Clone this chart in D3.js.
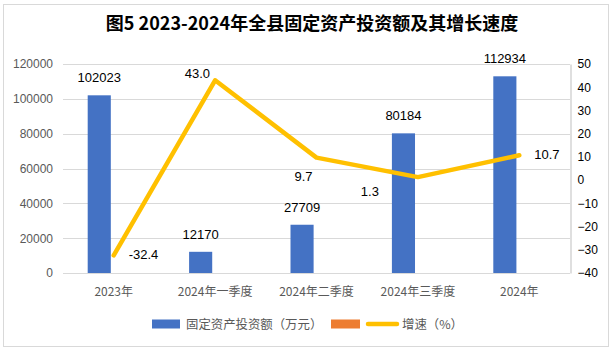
<!DOCTYPE html>
<html>
<head>
<meta charset="utf-8">
<script src="https://cdn.jsdelivr.net/npm/d3@7"></script>
<style>
  body { margin: 0; background: #fff; }
  text { font-family: "Liberation Sans", "Noto Sans CJK SC", sans-serif; }
  .cjk { font-family: "Noto Sans CJK SC", sans-serif; }
</style>
</head>
<body>
<div class="chart"></div>
<script>
// chart data
var categories = ["2023年", "2024年一季度", "2024年二季度", "2024年三季度", "2024年"];
var investment = [102023, 12170, 27709, 80184, 112934];
var growthRate = [-32.4, 43.0, 9.7, 1.3, 10.7];
var rateLabels = ["-32.4", "43.0", "9.7", "1.3", "10.7"];
var leftTicks = [0, 20000, 40000, 60000, 80000, 100000, 120000];
var rightTicks = [-40, -30, -20, -10, 0, 10, 20, 30, 40, 50];
var seriesNames = ["固定资产投资额（万元）", "增速（%）"];

// where each growth label sits relative to its point (layout only)
var rateLabelOffset = [[15, 4, "start"], [-5, -2, "end"], [-4, 23, "end"], [-39, 19, "end"], [15, 4, "start"]];

var svgWidth = 615;
var svgHeight = 353;
var margin = { top: 64, right: 45, bottom: 80, left: 63 };
var width = svgWidth - margin.left - margin.right;
var height = 273 - margin.top;

var svg = d3.select(".chart").append("svg")
  .attr("width", svgWidth)
  .attr("height", svgHeight);

svg.append("rect")
  .attr("x", 3.5).attr("y", 4.5)
  .attr("width", 605).attr("height", 342)
  .attr("fill", "#fff").attr("stroke", "#d9d9d9");

svg.append("text")
  .attr("class", "cjk")
  .attr("x", 312).attr("y", 30)
  .attr("text-anchor", "middle")
  .attr("font-size", 18).attr("font-weight", "bold")
  .attr("fill", "#000")
  .text("图5 2023-2024年全县固定资产投资额及其增长速度");

var chart = svg.append("g")
  .attr("transform", "translate(" + margin.left + "," + margin.top + ")");

var x0 = d3.scaleBand().domain(categories).range([0, width]);
// two bar slots per category (second series is empty)
var x1 = d3.scaleBand().domain([0, 1]).range([-26, 26]).paddingInner(0.2);
var yLeft = d3.scaleLinear().domain([0, 120000]).range([height, 0]);
var yRight = d3.scaleLinear().domain([-40, 50]).range([height, 0]);

function cx(d) { return x0(d) + x0.bandwidth() / 2; }

// gridlines
chart.append("g")
  .selectAll("line").data(leftTicks.slice(1)).enter().append("line")
  .attr("x1", 0).attr("x2", width)
  .attr("y1", function(d) { return Math.round(yLeft(d)) + 0.5; })
  .attr("y2", function(d) { return Math.round(yLeft(d)) + 0.5; })
  .attr("stroke", "#d9d9d9");

// left axis
var leftAxis = d3.axisLeft(yLeft).tickValues(leftTicks).tickFormat(d3.format("d")).tickSize(0).tickPadding(10);
chart.append("g").call(leftAxis)
  .call(function(g) { g.select(".domain").remove(); })
  .selectAll("text").attr("font-size", 12).attr("fill", "#595959")
  .style("font-family", "Liberation Sans, sans-serif");

// right axis
var rightAxis = d3.axisRight(yRight).tickValues(rightTicks).tickFormat(d3.format("d")).tickSize(0).tickPadding(7);
chart.append("g").attr("transform", "translate(" + (width + 0.5) + ",0)").call(rightAxis)
  .call(function(g) { g.select(".domain").attr("stroke", "#bfbfbf"); })
  .selectAll("text").attr("font-size", 12).attr("fill", "#000")
  .style("font-family", "Liberation Sans, sans-serif");

// bars
var barData = categories.map(function(c, i) { return { cat: c, value: investment[i] }; });
chart.selectAll(".bar").data(barData).enter().append("rect")
  .attr("class", "bar")
  .attr("x", function(d) { return cx(d.cat) + x1(0); })
  .attr("width", x1.bandwidth())
  .attr("y", function(d) { return yLeft(d.value); })
  .attr("height", function(d) { return height - yLeft(d.value); })
  .attr("fill", "#4472c4");

chart.selectAll(".bar-label").data(barData).enter().append("text")
  .attr("x", function(d) { return cx(d.cat) + x1(0) + x1.bandwidth() / 2; })
  .attr("y", function(d) { return yLeft(d.value) - 13; })
  .attr("text-anchor", "middle")
  .attr("font-size", 13).attr("fill", "#000")
  .text(function(d) { return d.value; });

// bottom axis
chart.append("line")
  .attr("x1", 0).attr("x2", width)
  .attr("y1", height + 0.5).attr("y2", height + 0.5)
  .attr("stroke", "#d9d9d9");

chart.selectAll(".cat").data(categories).enter().append("text")
  .attr("class", "cjk")
  .attr("x", cx)
  .attr("y", height + 23)
  .attr("text-anchor", "middle")
  .attr("font-size", 12).attr("fill", "#595959")
  .text(function(d) { return d; });

// growth line
var lineData = categories.map(function(c, i) { return { cat: c, value: growthRate[i], label: rateLabels[i], off: rateLabelOffset[i] }; });
var line = d3.line()
  .x(function(d) { return cx(d.cat); })
  .y(function(d) { return yRight(d.value); });

chart.append("path").datum(lineData)
  .attr("d", line)
  .attr("fill", "none")
  .attr("stroke", "#ffc000")
  .attr("stroke-width", 4.5)
  .attr("stroke-linejoin", "round")
  .attr("stroke-linecap", "round");

chart.selectAll(".rate-label").data(lineData).enter().append("text")
  .attr("x", function(d) { return cx(d.cat) + d.off[0]; })
  .attr("y", function(d) { return yRight(d.value) + d.off[1]; })
  .attr("text-anchor", function(d) { return d.off[2]; })
  .attr("font-size", 13).attr("fill", "#000")
  .text(function(d) { return d.label; });

// legend
var legend = svg.append("g").attr("transform", "translate(0,324)");
legend.append("rect").attr("x", 152).attr("y", -4.5).attr("width", 28).attr("height", 9).attr("fill", "#4472c4");
legend.append("text").attr("class", "cjk").attr("x", 186).attr("y", 4.5)
  .attr("font-size", 12.4).attr("fill", "#595959").text(seriesNames[0]);
legend.append("rect").attr("x", 331).attr("y", -4.5).attr("width", 29).attr("height", 9).attr("fill", "#ed7d31");
legend.append("line").attr("x1", 368).attr("x2", 397).attr("y1", 0).attr("y2", 0)
  .attr("stroke", "#ffc000").attr("stroke-width", 4.5).attr("stroke-linecap", "round");
legend.append("text").attr("class", "cjk").attr("x", 402).attr("y", 4.5)
  .attr("font-size", 12.4).attr("fill", "#595959").text(seriesNames[1]);
</script>
</body>
</html>
